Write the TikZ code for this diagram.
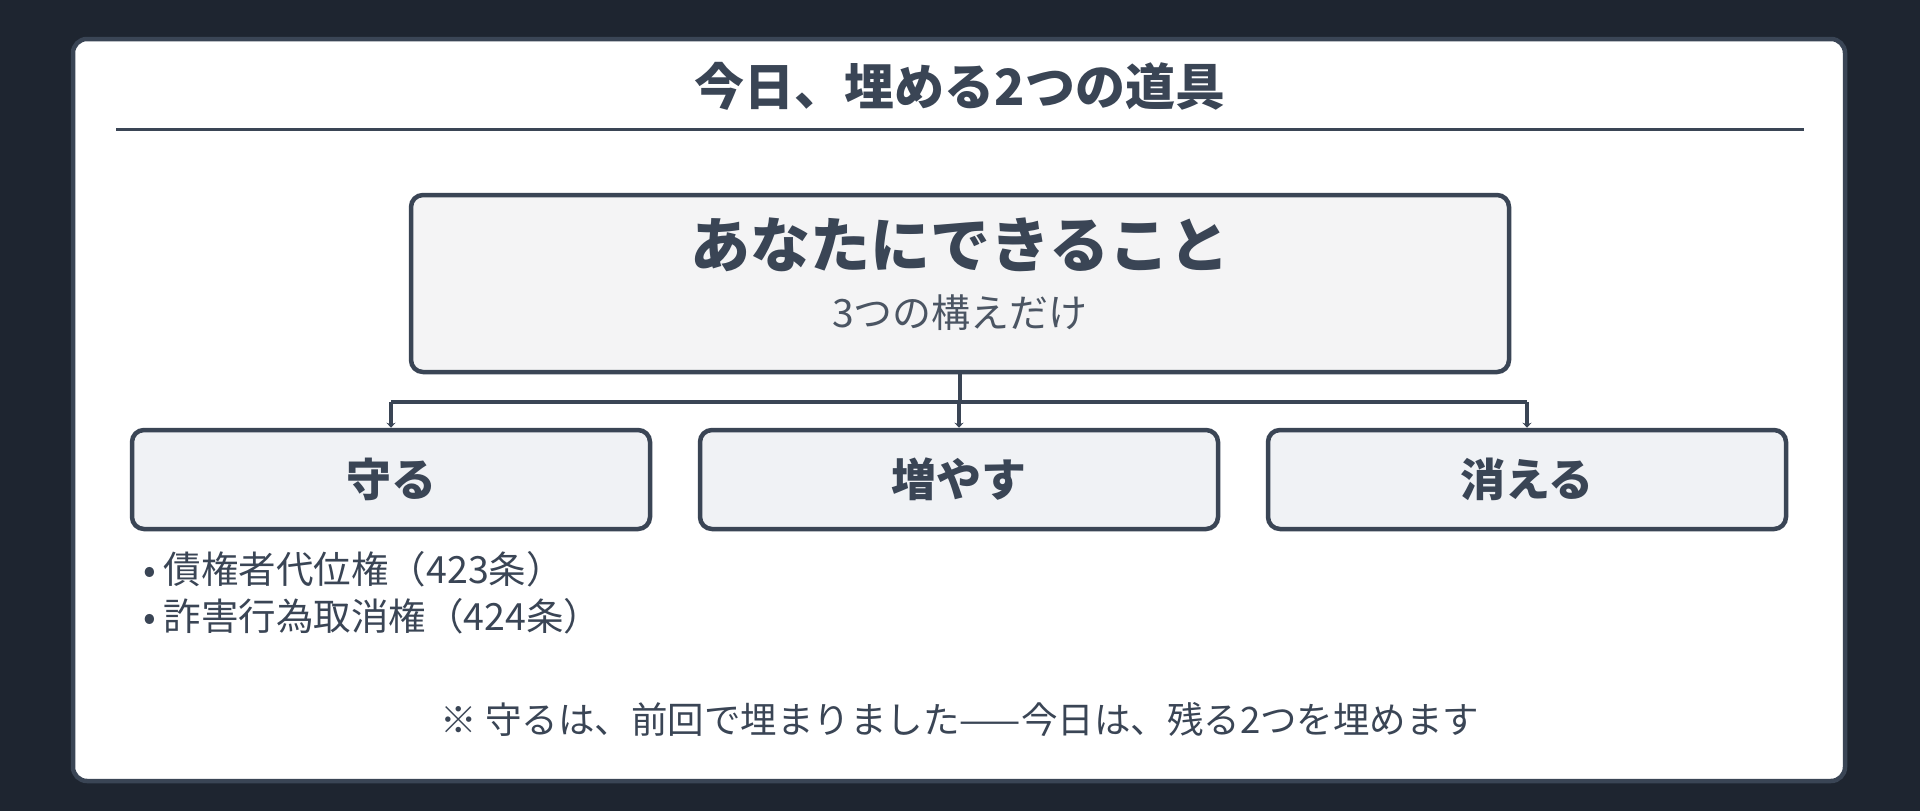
\documentclass[tikz,border=0pt]{standalone}
\usepackage{fontspec}
\setmainfont{Noto Sans CJK JP}
\usetikzlibrary{arrows.meta}
\definecolor{bgdark}{HTML}{1E2530}
\definecolor{ink}{HTML}{3A4555}
\definecolor{subink}{HTML}{4B5563}
\definecolor{topfill}{HTML}{F4F4F5}
\definecolor{boxfill}{HTML}{F0F2F5}

\begin{document}
\begin{tikzpicture}[x=1pt,y=-1pt,
  panel/.style={draw=ink,line width=4.5pt,rounded corners=14pt,fill=white},
  topbox/.style={draw=ink,line width=4.5pt,rounded corners=12pt,fill=topfill,
    minimum width=1098pt,minimum height=177pt},
  toolbox/.style={draw=ink,line width=4.5pt,rounded corners=12pt,fill=boxfill,
    minimum width=518pt,minimum height=99pt,text=ink,
    font=\fontsize{45}{50}\selectfont\bfseries},
  item/.style={anchor=west,inner sep=0pt,text=ink,font=\fontsize{37.5}{42}\selectfont},
  link/.style={draw=ink,line width=3.5pt}]

  % background and panel
  \fill[bgdark] (0,0) rectangle (1920,811);
  \draw[panel] (73,39) rectangle (1845,781);

  \node[text=ink,font=\fontsize{50}{56}\selectfont\bfseries] (title) at (960,86) {今日、埋める2つの道具};
  \draw[ink,line width=3pt] (116,129) -- (1804,129);

  % top box
  \node[topbox] (can) at (960,283.5) {};
  \node[text=ink,font=\fontsize{60}{66}\selectfont\bfseries] (canhead) at (960,245) {あなたにできること};
  \node[text=subink,font=\fontsize{39}{44}\selectfont] (cansub) at (960,313) {3つの構えだけ};

  % three tools
  \node[toolbox] (keep) at (391,479.5) {守る};
  \node[toolbox] (grow) at (959,479.5) {増やす};
  \node[toolbox] (erase) at (1527,479.5) {消える};

  \coordinate (fork) at (960,402);
  \draw[link] (can.south) -- (fork);
  \draw[link] (keep.north |- fork) -- (erase.north |- fork);
  \foreach \b in {keep,grow,erase}
    \draw[link,-{Stealth[length=5pt,width=9pt]}] (\b.north |- fork) -- (\b.north);

  \node[item] (law1) at (143,569) {•\hspace{8pt}債権者代位権（423条）};
  \node[item] (law2) at (143,616) {•\hspace{8pt}詐害行為取消権（424条）};

  \node[text=ink,font=\fontsize{36.5}{42}\selectfont] (note) at (960,719) {※ 守るは、前回で埋まりました——今日は、残る2つを埋めます};

\end{tikzpicture}
\end{document}
